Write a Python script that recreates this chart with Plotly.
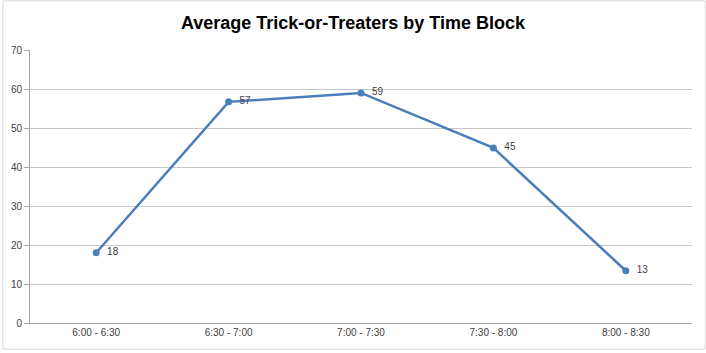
import plotly.graph_objects as go

categories = ["6:00 - 6:30", "6:30 - 7:00", "7:00 - 7:30", "7:30 - 8:00", "8:00 - 8:30"]
values = [18, 56.7, 59, 44.9, 13.4]
labels = ["  " + str(round(v)) for v in values]
y_ticks = [0, 10, 20, 30, 40, 50, 60, 70]

fig = go.Figure()
fig.add_trace(go.Scatter(
    x=categories, y=values, mode="lines+markers+text",
    text=labels, textposition="middle right",
    textfont=dict(family="Liberation Sans, Arial", size=10, color="#404040"),
    line=dict(color="#4A7EBB", width=2.5),
    marker=dict(color="#4A7EBB", size=7),
    cliponaxis=False, showlegend=False,
))

fig.update_layout(
    width=706, height=353,
    margin=dict(l=30, r=14, t=50, b=30),
    paper_bgcolor="white", plot_bgcolor="white",
    title=dict(text="<b>Average Trick-or-Treaters by Time Block</b>",
               x=0.5, xanchor="center", y=0.935, yanchor="middle",
               font=dict(family="Liberation Sans, Arial", size=18, color="black")),
    font=dict(family="Liberation Sans, Arial", size=10, color="#595959"),
    xaxis=dict(type="category", range=[-0.5, 4.5], showgrid=False, showline=True,
               linecolor="#A6A6A6", ticks="", tickfont=dict(size=10, color="#404040")),
    yaxis=dict(range=[0, 70], tickvals=y_ticks, showgrid=True, gridcolor="#C8C8C8",
               gridwidth=1, showline=True, linecolor="#A6A6A6", ticks="outside",
               ticklen=5, tickcolor="#A6A6A6", zeroline=False,
               tickfont=dict(size=10, color="#404040")),
    shapes=[dict(type="rect", xref="paper", yref="paper", x0=-0.041, x1=1.02, y0=-0.096, y1=1.18,
                 line=dict(color="#D9D9D9", width=1))],
)

fig.write_html("out.html")
